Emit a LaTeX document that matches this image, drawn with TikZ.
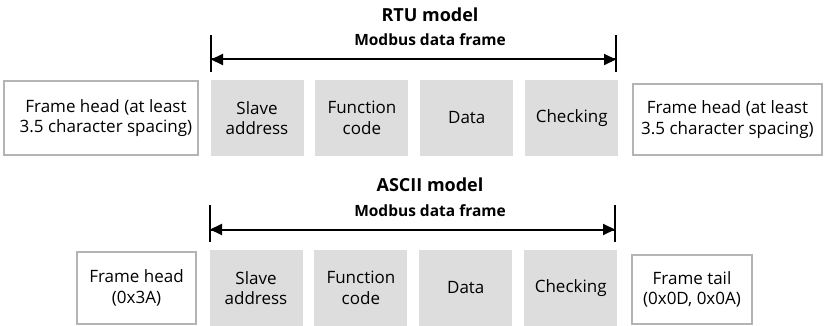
\documentclass[tikz,border=0pt]{standalone}
\usepackage{fontspec}
\setmainfont{Open Sans}
\usetikzlibrary{positioning,arrows.meta}
\definecolor{cellgray}{RGB}{221,221,221}
\definecolor{framegray}{RGB}{180,180,180}
\newcommand{\cellfont}{\fontsize{17}{20.5}\selectfont}
\newcommand{\titlefont}{\fontsize{18}{22}\selectfont\bfseries}
\newcommand{\subfont}{\fontsize{15.5}{18}\selectfont\bfseries}
\begin{document}
\begin{tikzpicture}[x=1pt, y=-1pt,
    cell/.style={fill=cellgray, minimum width=93pt, minimum height=76pt,
      inner sep=0pt, align=center, font=\cellfont},
    frame/.style={draw=framegray, line width=2pt, fill=white, inner sep=0pt,
      align=center, font=\cellfont},
    span/.style={line width=2pt, -{Triangle[length=12pt,width=11pt]}},
    bar/.style={line width=2pt}]
    \useasboundingbox (0,0) rectangle (825,326);

    % RTU model (top)
    \begin{scope}
      \node[font=\titlefont, anchor=base] (rtutitle) at (430,22) {RTU model};
      \node[font=\subfont, anchor=base] (rtusub) at (430,46) {Modbus data frame};
      \node[cell] (rtuslave) at (257,118) {Slave\\address};
      \node[cell, right=11.5pt of rtuslave] (rtufunc) {Function\\code};
      \node[cell, right=11.5pt of rtufunc] (rtudata) {Data};
      \node[cell, right=11.5pt of rtudata] (rtucheck) {Checking};
      \node[frame, minimum width=194pt, minimum height=74pt] (rtuhead) at (101,118)
        {\hspace*{10pt}Frame head (at least\\\hspace*{10pt}3.5 character spacing)};
      \node[frame, minimum width=189pt, minimum height=71pt] (rtutail) at (727.5,119.5)
        {Frame head (at least\\3.5 character spacing)};
      \coordinate (rtul) at (211,59.5);
      \coordinate (rtur) at (616,59.5);
      \draw[bar] (211,35) -- (211,72);
      \draw[bar] (616,35) -- (616,72);
      \draw[span] (rtur) -- (rtul);
      \draw[span] (rtul) -- (rtur);
    \end{scope}

    % ASCII model (bottom)
    \begin{scope}[shift={(-1,170)}]
      \node[font=\titlefont, anchor=base] (asctitle) at (431,22) {ASCII model};
      \node[font=\subfont, anchor=base] (ascsub) at (431,46) {Modbus data frame};
      \node[cell] (ascslave) at (257,118) {Slave\\address};
      \node[cell, right=11.5pt of ascslave] (ascfunc) {Function\\code};
      \node[cell, right=11.5pt of ascfunc] (ascdata) {Data};
      \node[cell, right=11.5pt of ascdata] (asccheck) {Checking};
      \node[frame, minimum width=119pt, minimum height=72pt] (aschead) at (137.5,118)
        {Frame head\\(0x3A)};
      \node[frame, minimum width=120pt, minimum height=69pt] (asctail) at (693,119.5)
        {Frame tail\\(0x0D, 0x0A)};
      \coordinate (ascl) at (211,59.5);
      \coordinate (ascr) at (616,59.5);
      \draw[bar] (211,35) -- (211,72);
      \draw[bar] (616,35) -- (616,72);
      \draw[span] (ascr) -- (ascl);
      \draw[span] (ascl) -- (ascr);
    \end{scope}
  \end{tikzpicture}
\end{document}
